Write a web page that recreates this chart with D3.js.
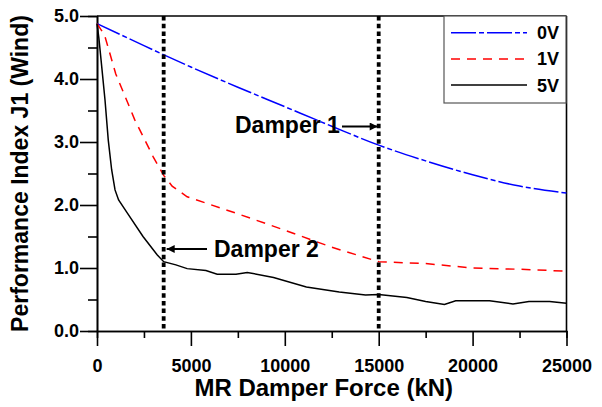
<!DOCTYPE html>
<html>
<head>
<meta charset="utf-8">
<script src="https://cdn.jsdelivr.net/npm/d3@7"></script>
<style>
  html, body { margin: 0; padding: 0; background: #fff; }
  svg { display: block; }
  text { font-family: "Liberation Sans", Arial, sans-serif; font-weight: bold; }
</style>
</head>
<body>
<svg id="chart" width="602" height="407"></svg>
<script>
// ---- data ----
const force0V = [0, 2500, 5000, 7500, 10000, 12500, 15000, 17500, 20000, 22500, 25000];
const j0V     = [4.88, 4.53, 4.19, 3.87, 3.56, 3.25, 2.95, 2.70, 2.48, 2.30, 2.19];

const force1V = [0, 400, 1000, 2000, 3000, 3550, 4000, 4800, 7500, 10000, 12500, 15000, 17500, 20000, 22500, 25000];
const j1V     = [4.88, 4.70, 4.08, 3.36, 2.76, 2.47, 2.30, 2.13, 1.86, 1.60, 1.33, 1.10, 1.07, 1.00, 0.98, 0.95];

const force5V = [0, 100, 250, 425, 600, 780, 960, 1150, 1600, 2450, 3200, 3550, 4200, 4800, 5800, 6400, 7400, 8000, 9400, 11150, 12900, 14300, 15000, 16500, 17500, 18500, 19100, 20900, 22150, 23000, 24100, 25000];
const j5V     = [4.88, 4.65, 4.20, 3.67, 3.03, 2.56, 2.24, 2.08, 1.88, 1.50, 1.21, 1.10, 1.05, 0.99, 0.96, 0.90, 0.90, 0.93, 0.85, 0.70, 0.62, 0.57, 0.58, 0.53, 0.47, 0.42, 0.48, 0.48, 0.43, 0.47, 0.47, 0.44];

const xMajorTicks = [0, 5000, 10000, 15000, 20000, 25000];
const xMinorTicks = [2500, 7500, 12500, 17500, 22500];
const yMajorTicks = [0, 1, 2, 3, 4, 5];
const yMinorTicks = [0.5, 1.5, 2.5, 3.5, 4.5];

const damperForces = [3550, 15000];
const damperLabels = ["Damper 2", "Damper 1"];

const seriesNames = ["0V", "1V", "5V"];
const xTitle = "MR Damper Force (kN)";
const yTitle = "Performance Index J1 (Wind)";

// ---- layout ----
const svg = d3.select("#chart");
const L = 97, R = 566.5, T = 16, B = 331;
const x = d3.scaleLinear().domain([0, 25000]).range([L, R]);
const y = d3.scaleLinear().domain([0, 5]).range([B, T]);

const styles = [
  { color: "#0000ff", dash: "25,3,5,3", curve: d3.curveMonotoneX },
  { color: "#ff0000", dash: "9,7", curve: d3.curveLinear },
  { color: "#000000", dash: null, curve: d3.curveLinear }
];
const series = [
  force0V.map((f, i) => [f, j0V[i]]),
  force1V.map((f, i) => [f, j1V[i]]),
  force5V.map((f, i) => [f, j5V[i]])
];

// frame (top & right)
svg.append("line").attr("x1", L).attr("x2", R).attr("y1", T).attr("y2", T)
  .attr("stroke", "#000").attr("stroke-width", 1.6);
svg.append("line").attr("x1", R).attr("x2", R).attr("y1", T).attr("y2", B)
  .attr("stroke", "#000").attr("stroke-width", 1.6);

// axes
function styleAxis(g) {
  g.select(".domain").attr("stroke", "#000").attr("stroke-width", 1.6);
  g.selectAll(".tick line").attr("stroke", "#000").attr("stroke-width", 1.6);
  g.selectAll("text").attr("fill", "#000").attr("font-size", 18)
    .attr("font-family", "'Liberation Sans', Arial, sans-serif").attr("font-weight", "bold");
}

const xAxisMinor = svg.append("g").attr("transform", `translate(0,${B})`)
  .call(d3.axisBottom(x).tickValues(xMinorTicks).tickSize(7).tickFormat(""));
styleAxis(xAxisMinor);
const xAxis = svg.append("g").attr("transform", `translate(0,${B})`)
  .call(d3.axisBottom(x).tickValues(xMajorTicks).tickSize(15).tickSizeOuter(0).tickPadding(13).tickFormat(d3.format("d")));
styleAxis(xAxis);

const yAxisMinor = svg.append("g").attr("transform", `translate(${L},0)`)
  .call(d3.axisLeft(y).tickValues(yMinorTicks).tickSize(9).tickFormat(""));
styleAxis(yAxisMinor);
const yAxis = svg.append("g").attr("transform", `translate(${L},0)`)
  .call(d3.axisLeft(y).tickValues(yMajorTicks).tickSize(17).tickSizeOuter(0).tickPadding(1).tickFormat(d3.format(".1f")));
styleAxis(yAxis);

// series
series.forEach((data, i) => {
  const line = d3.line().x(d => x(d[0])).y(d => y(d[1])).curve(styles[i].curve);
  svg.append("path").datum(data)
    .attr("d", line)
    .attr("fill", "none")
    .attr("stroke", styles[i].color)
    .attr("stroke-width", 1.5)
    .attr("stroke-dasharray", styles[i].dash);
});

// damper lines
damperForces.forEach(f => {
  svg.append("line")
    .attr("x1", x(f)).attr("x2", x(f))
    .attr("y1", y(5)).attr("y2", y(0))
    .attr("stroke", "#000").attr("stroke-width", 3.8)
    .attr("stroke-dasharray", "4.5,3.2");
});

// arrows
const defs = svg.append("defs");
defs.append("marker").attr("id", "ah").attr("viewBox", "0 0 10 10")
  .attr("refX", 10).attr("refY", 5).attr("markerWidth", 12).attr("markerHeight", 8)
  .attr("markerUnits", "userSpaceOnUse").attr("orient", "auto")
  .append("path").attr("d", "M0,0 L10,5 L0,10 Z").attr("fill", "#000");

// Damper 1 (label left, arrow pointing right to line)
svg.append("text").attr("x", 235).attr("y", 133)
  .attr("font-family", "Lato, 'Open Sans', sans-serif").attr("font-weight", "bold")
  .attr("font-size", 23).text(damperLabels[1]);
svg.append("line").attr("x1", 342).attr("x2", x(damperForces[1]) - 1)
  .attr("y1", 126.5).attr("y2", 126.5).attr("stroke", "#000").attr("stroke-width", 2)
  .attr("marker-end", "url(#ah)");

// Damper 2 (arrow pointing left, label right)
svg.append("line").attr("x1", 207).attr("x2", x(damperForces[0]) + 3)
  .attr("y1", 249).attr("y2", 249).attr("stroke", "#000").attr("stroke-width", 2)
  .attr("marker-end", "url(#ah)");
svg.append("text").attr("x", 214).attr("y", 257)
  .attr("font-family", "Lato, 'Open Sans', sans-serif").attr("font-weight", "bold")
  .attr("font-size", 23).text(damperLabels[0]);

// legend
const lg = svg.append("g");
lg.append("rect").attr("x", 444).attr("y", 16).attr("width", 122).attr("height", 87)
  .attr("fill", "#fff").attr("stroke", "#555").attr("stroke-width", 1.2);
seriesNames.forEach((name, i) => {
  const yy = 32.7 + i * 26.2;
  lg.append("line").attr("x1", 451).attr("x2", 527).attr("y1", yy).attr("y2", yy)
    .attr("stroke", styles[i].color).attr("stroke-width", 1.5)
    .attr("stroke-dasharray", styles[i].dash);
  lg.append("text").attr("x", 537).attr("y", yy + 6.5).attr("font-size", 18).text(name);
});

// titles
svg.append("text").attr("x", (L + R) / 2 - 8).attr("y", 396).attr("text-anchor", "middle")
  .attr("font-size", 24).text(xTitle);
svg.append("text").attr("transform", `translate(28,${(T + B) / 2}) rotate(-90)`)
  .attr("text-anchor", "middle").attr("font-size", 23).text(yTitle);
</script>
</body>
</html>
